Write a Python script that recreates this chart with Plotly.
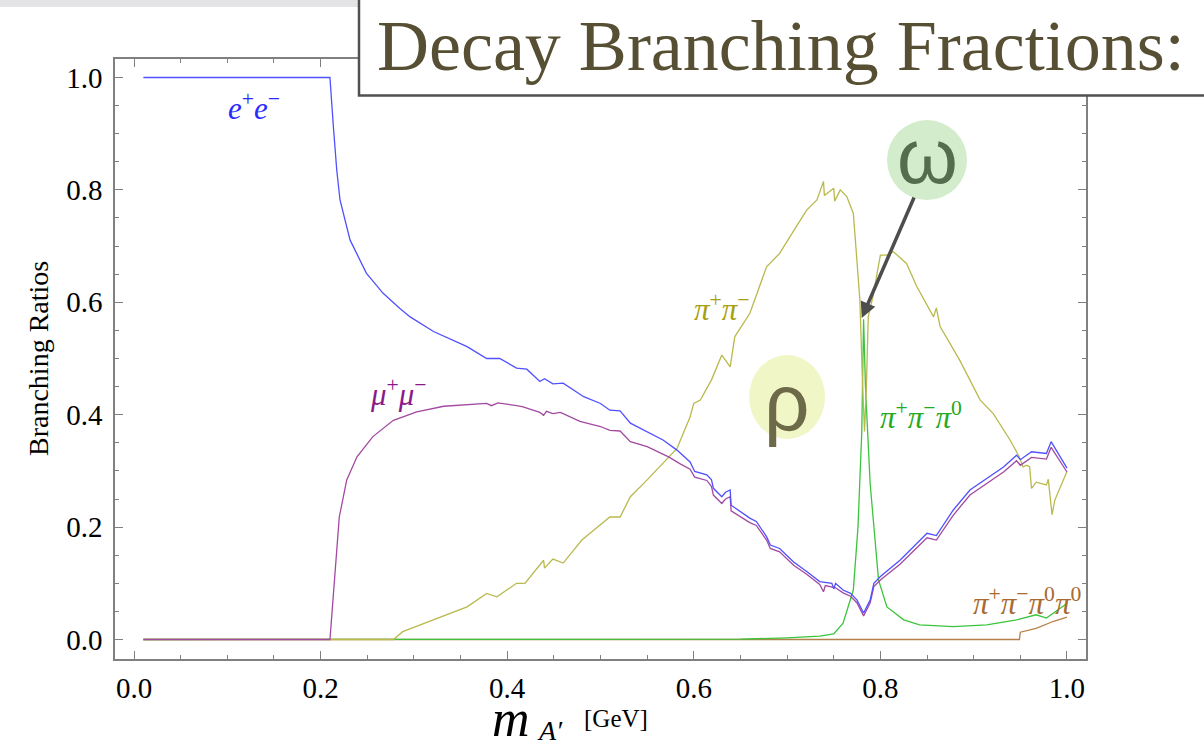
import plotly.graph_objects as go

# ---------------- data ----------------
ee_x = [0.01, 0.21, 0.2137, 0.2173, 0.2208, 0.2315, 0.249, 0.267, 0.285, 0.296, 0.321, 0.357, 0.378,
        0.392, 0.41, 0.421, 0.435, 0.44, 0.449, 0.46, 0.482, 0.5, 0.51, 0.521, 0.532, 0.55, 0.567,
        0.582, 0.596, 0.601, 0.614, 0.619, 0.621, 0.63, 0.634, 0.639, 0.64, 0.66, 0.667, 0.678,
        0.682, 0.692, 0.707, 0.721, 0.735, 0.748, 0.75, 0.752, 0.76, 0.768, 0.775, 0.782, 0.789,
        0.793, 0.8, 0.821, 0.839, 0.85, 0.86, 0.862, 0.878, 0.896, 0.917, 0.932, 0.946, 0.95,
        0.962, 0.978, 0.983, 0.989, 1.0]
ee_y = [1.0, 1.0, 0.912, 0.835, 0.782, 0.711, 0.652, 0.616, 0.589, 0.574, 0.548, 0.521, 0.50,
        0.50, 0.483, 0.481, 0.459, 0.464, 0.455, 0.456, 0.432, 0.42, 0.408, 0.407, 0.385, 0.37, 0.355,
        0.337, 0.316, 0.299, 0.293, 0.284, 0.269, 0.254, 0.262, 0.266, 0.239, 0.216, 0.21, 0.183,
        0.168, 0.162, 0.138, 0.121, 0.103, 0.10, 0.09, 0.10, 0.088, 0.082, 0.07, 0.047, 0.07,
        0.10, 0.112, 0.141, 0.171, 0.189, 0.185, 0.19, 0.23, 0.266, 0.29, 0.307, 0.328, 0.32,
        0.334, 0.331, 0.352, 0.335, 0.305]

mumu_x = [0.01, 0.21, 0.22, 0.228, 0.239, 0.256, 0.278, 0.303, 0.332, 0.364, 0.378, 0.383, 0.39,
          0.41, 0.417, 0.435, 0.439, 0.442, 0.449, 0.457, 0.478, 0.5, 0.51, 0.521, 0.532, 0.55,
          0.573, 0.585, 0.596, 0.601, 0.614, 0.619, 0.621, 0.63, 0.634, 0.639, 0.64, 0.66, 0.667,
          0.678, 0.682, 0.692, 0.707, 0.721, 0.735, 0.739, 0.741, 0.752, 0.76, 0.768, 0.775, 0.782,
          0.789, 0.793, 0.8, 0.821, 0.839, 0.85, 0.86, 0.862, 0.878, 0.896, 0.917, 0.932, 0.946,
          0.95, 0.962, 0.978, 0.983, 0.989, 1.0]
mumu_y = [0.0, 0.0, 0.218, 0.284, 0.325, 0.361, 0.39, 0.405, 0.415, 0.419, 0.42, 0.416, 0.421,
          0.416, 0.414, 0.404, 0.399, 0.406, 0.402, 0.404, 0.388, 0.379, 0.372, 0.371, 0.352, 0.343,
          0.325, 0.313, 0.303, 0.289, 0.283, 0.272, 0.257, 0.242, 0.25, 0.254, 0.229, 0.208, 0.203,
          0.177, 0.162, 0.156, 0.132, 0.116, 0.098, 0.085, 0.096, 0.092, 0.083, 0.077, 0.065, 0.042,
          0.065, 0.094, 0.106, 0.134, 0.164, 0.181, 0.177, 0.182, 0.221, 0.257, 0.281, 0.298, 0.318,
          0.31, 0.324, 0.321, 0.342, 0.326, 0.298]

pipi_x = [0.01, 0.278, 0.288, 0.357, 0.378, 0.389, 0.41, 0.419, 0.439, 0.44, 0.449, 0.46, 0.48,
          0.51, 0.521, 0.532, 0.55, 0.573, 0.582, 0.596, 0.6, 0.607, 0.619, 0.63, 0.639, 0.644,
          0.66, 0.678, 0.692, 0.71, 0.721, 0.732, 0.739, 0.74, 0.75, 0.751, 0.757, 0.764, 0.771,
          0.774, 0.778, 0.781, 0.783, 0.785, 0.787, 0.792, 0.8, 0.807, 0.814, 0.828, 0.839, 0.857,
          0.86, 0.864, 0.885, 0.907, 0.921, 0.939, 0.948, 0.953, 0.957, 0.96, 0.962, 0.967, 0.978,
          0.98, 0.984, 0.987, 1.0]
pipi_y = [0.0, 0.0, 0.014, 0.058, 0.082, 0.076, 0.10, 0.10, 0.141, 0.127, 0.143, 0.136, 0.177,
          0.218, 0.218, 0.254, 0.284, 0.325, 0.34, 0.396, 0.42, 0.426, 0.462, 0.506, 0.485, 0.539,
          0.58, 0.663, 0.687, 0.735, 0.764, 0.782, 0.815, 0.79, 0.803, 0.78, 0.80, 0.788, 0.758,
          0.693, 0.604, 0.45, 0.37, 0.45, 0.574, 0.61, 0.684, 0.684, 0.69, 0.669, 0.628, 0.574,
          0.59, 0.557, 0.497, 0.426, 0.402, 0.355, 0.328, 0.307, 0.31, 0.307, 0.269, 0.28, 0.275,
          0.285, 0.222, 0.248, 0.299]

pi3_x = [0.01, 0.65, 0.70, 0.735, 0.75, 0.76, 0.771, 0.776, 0.78, 0.782, 0.784, 0.789, 0.798,
         0.807, 0.825, 0.842, 0.878, 0.914, 0.946, 0.967, 0.978, 1.0]
pi3_y = [0.0, 0.0005, 0.003, 0.006, 0.01, 0.029, 0.088, 0.20, 0.367, 0.57, 0.45, 0.278, 0.106,
         0.058, 0.035, 0.026, 0.023, 0.026, 0.035, 0.044, 0.038, 0.064]

pi4_x = [0.01, 0.949, 0.95, 0.967, 0.985, 1.0]
pi4_y = [0.0, 0.0, 0.013, 0.02, 0.032, 0.04]

x_ticks = [0.0, 0.2, 0.4, 0.6, 0.8, 1.0]
y_ticks = [0.0, 0.2, 0.4, 0.6, 0.8, 1.0]

# ---------------- figure ----------------
W, H = 1204, 744
ML, MR, MT, MB = 115, 118, 59, 85
PW, PH = W - ML - MR, H - MT - MB


def pxx(x):
    return (x - ML) / PW


def pxy(y):
    return (H - MB - y) / PH


SERIF = "Liberation Serif, Times New Roman, serif"
SANS = "Liberation Sans, Arial, sans-serif"

fig = go.Figure()
series = [
    (pi4_x, pi4_y, "#b5804a"),
    (pi3_x, pi3_y, "#3cc43c"),
    (pipi_x, pipi_y, "#b9b94e"),
    (mumu_x, mumu_y, "#a24aa2"),
    (ee_x, ee_y, "#5050ff"),
]
for xs, ys, c in series:
    fig.add_trace(go.Scatter(x=xs, y=ys, mode="lines", line=dict(color=c, width=1.3),
                             showlegend=False, hoverinfo="skip"))

axis_common = dict(
    showgrid=False, zeroline=False, showline=True, linecolor="#808080", linewidth=1.5,
    mirror="ticks", ticks="inside", ticklen=8, tickwidth=1.2, tickcolor="#808080",
    tickfont=dict(family=SERIF, size=29, color="black"), tickformat=".1f",
)
fig.update_xaxes(range=[-0.0204, 1.0204], tickvals=x_ticks,
                 minor=dict(dtick=0.05, tick0=0, ticks="inside", ticklen=4.5, tickcolor="#808080", tickwidth=1),
                 ticklabelstandoff=2, **axis_common)
fig.update_yaxes(range=[-0.0347, 1.0329], tickvals=y_ticks,
                 minor=dict(dtick=0.05, tick0=0, ticks="inside", ticklen=4.5, tickcolor="#808080", tickwidth=1),
                 ticklabelstandoff=5, **axis_common)

shapes = [
    # top grey band of the slide
    dict(type="rect", xref="paper", yref="paper", x0=pxx(-5), x1=pxx(W + 5), y0=pxy(7), y1=pxy(-5),
         fillcolor="#e4e4e6", line=dict(width=0), layer="above"),
    # title box
    dict(type="rect", xref="paper", yref="paper", x0=pxx(359), x1=pxx(W + 20), y0=pxy(95.5), y1=pxy(-10),
         fillcolor="white", line=dict(color="#505050", width=2.5), layer="above"),
    # rho and omega circles
    dict(type="circle", xref="x", yref="y", xsizemode="pixel", ysizemode="pixel",
         xanchor=0.700, yanchor=0.4315, x0=-38, x1=38, y0=-42, y1=42,
         fillcolor="#f1f6c6", line=dict(width=0), layer="below"),
    dict(type="circle", xref="x", yref="y", xsizemode="pixel", ysizemode="pixel",
         xanchor=0.850, yanchor=0.853, x0=-40, x1=40, y0=-40, y1=40,
         fillcolor="#d3eccb", line=dict(width=0), layer="below"),
]
fig.update_layout(shapes=shapes)

ann = []
# title
ann.append(dict(xref="paper", yref="paper", x=pxx(781), y=pxy(46), xanchor="center", yanchor="middle",
                text="Decay Branching Fractions:", showarrow=False,
                font=dict(family=SERIF, size=72, color="#574f33")))
# axis titles
ann.append(dict(xref="paper", yref="paper", x=pxx(38), y=pxy(359), xanchor="center", yanchor="middle",
                text="Branching Ratios", textangle=-90, showarrow=False,
                font=dict(family=SERIF, size=28, color="black")))
ann.append(dict(xref="paper", yref="paper", x=pxx(511), y=pxy(718), xanchor="center", yanchor="middle",
                text="<i>m</i>", showarrow=False, font=dict(family=SERIF, size=52, color="black")))
ann.append(dict(xref="paper", yref="paper", x=pxx(550), y=pxy(730), xanchor="center", yanchor="middle",
                text="<i>A′</i>", showarrow=False, font=dict(family=SERIF, size=28, color="black")))
ann.append(dict(xref="paper", yref="paper", x=pxx(616), y=pxy(718), xanchor="center", yanchor="middle",
                text="[GeV]", showarrow=False, font=dict(family=SERIF, size=25, color="black")))
# curve labels
labels = [
    (0.1286, 0.949, "<i>e</i><sup>+</sup><i>e</i><sup>−</sup>", "#2a2aff"),
    (0.283, 0.440, "<i>μ</i><sup>+</sup><i>μ</i><sup>−</sup>", "#8a1a8a"),
    (0.630, 0.590, "<i>π</i><sup>+</sup><i>π</i><sup>−</sup>", "#a8a010"),
    (0.8435, 0.398, "<i>π</i><sup>+</sup><i>π</i><sup>−</sup><i>π</i><sup>0</sup>", "#22aa22"),
    (0.957, 0.067, "<i>π</i><sup>+</sup><i>π</i><sup>−</sup><i>π</i><sup>0</sup><i>π</i><sup>0</sup>", "#a86a30"),
]
for x, y, t, c in labels:
    ann.append(dict(x=x, y=y, text=t, showarrow=False, xanchor="center", yanchor="middle",
                    font=dict(family=SERIF, size=31, color=c)))
# rho / omega letters
ann.append(dict(x=0.700, y=0.4315, text="ρ", showarrow=False, xanchor="center", yanchor="middle",
                yshift=-6, font=dict(family=SANS, size=80, color="#6c6a48")))
ann.append(dict(x=0.850, y=0.853, text="ω", showarrow=False, xanchor="center", yanchor="middle",
                yshift=4, font=dict(family=SANS, size=78, color="#536e4a")))
# arrow
ann.append(dict(x=0.780, y=0.572, ax=53, ay=-122, axref="pixel", ayref="pixel", text="",
                showarrow=True, arrowhead=2, arrowsize=0.9, arrowwidth=3.5, arrowcolor="#4d4d4d",
                standoff=0))
fig.update_layout(annotations=ann)

fig.update_layout(width=W, height=H, margin=dict(l=ML, r=MR, t=MT, b=MB, autoexpand=False),
                  paper_bgcolor="white", plot_bgcolor="white", showlegend=False)

fig.write_html("out.html")
